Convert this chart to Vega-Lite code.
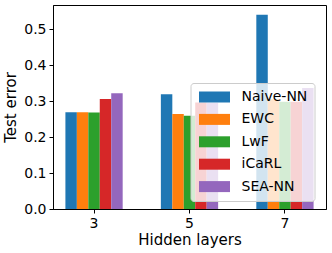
{
  "$schema": "https://vega.github.io/schema/vega-lite/v6.json",
  "width": 273,
  "height": 204,
  "autosize": "none",
  "padding": {"left": 53, "top": 5, "right": 6, "bottom": 44},
  "background": "white",
  "config": {
    "view": {"stroke": "black", "strokeWidth": 1},
    "font": "DejaVu Sans",
    "axis": {
      "domainColor": "black", "tickColor": "black", "labelColor": "black", "titleColor": "black",
      "grid": false, "labelFontSize": 14, "titleFontSize": 15, "titleFontWeight": "normal",
      "tickSize": 4, "domainWidth": 1, "tickWidth": 1, "labelPadding": 3, "labelFont": "DejaVu Sans", "titleFont": "DejaVu Sans"
    }
  },
  "data": {
    "values": [
      {"layers": "3", "method": "Naive-NN", "error": 0.269},
      {"layers": "3", "method": "EWC", "error": 0.269},
      {"layers": "3", "method": "LwF", "error": 0.268},
      {"layers": "3", "method": "iCaRL", "error": 0.306},
      {"layers": "3", "method": "SEA-NN", "error": 0.322},
      {"layers": "5", "method": "Naive-NN", "error": 0.319},
      {"layers": "5", "method": "EWC", "error": 0.264},
      {"layers": "5", "method": "LwF", "error": 0.259},
      {"layers": "5", "method": "iCaRL", "error": 0.296},
      {"layers": "5", "method": "SEA-NN", "error": 0.295},
      {"layers": "7", "method": "Naive-NN", "error": 0.54},
      {"layers": "7", "method": "EWC", "error": 0.305},
      {"layers": "7", "method": "LwF", "error": 0.298},
      {"layers": "7", "method": "iCaRL", "error": 0.298},
      {"layers": "7", "method": "SEA-NN", "error": 0.336}
    ]
  },
  "mark": {"type": "bar"},
  "encoding": {
    "x": {
      "field": "layers", "type": "nominal", "title": "Hidden layers",
      "scale": {"paddingInner": 0.4, "paddingOuter": 0.13},
      "axis": {"labelAngle": 0, "titlePadding": 2}
    },
    "xOffset": {
      "field": "method", "type": "nominal",
      "sort": ["Naive-NN", "EWC", "LwF", "iCaRL", "SEA-NN"],
      "scale": {"paddingInner": 0, "paddingOuter": 0}
    },
    "y": {
      "field": "error", "type": "quantitative", "title": "Test error",
      "scale": {"domain": [0, 0.567], "nice": false, "zero": true},
      "axis": {"values": [0, 0.1, 0.2, 0.3, 0.4, 0.5], "format": ".1f", "titlePadding": 5}
    },
    "color": {
      "field": "method", "type": "nominal",
      "scale": {
        "domain": ["Naive-NN", "EWC", "LwF", "iCaRL", "SEA-NN"],
        "range": ["#1f77b4", "#ff7f0e", "#2ca02c", "#d62728", "#9467bd"]
      },
      "legend": {
        "title": null, "orient": "none", "legendX": 137.5, "legendY": 78,
        "symbolType": "M-1,-1H4.64V1H-1Z", "symbolSize": 121, "symbolStrokeWidth": 0,
        "symbolOpacity": 1,
        "labelFontSize": 14, "labelFont": "DejaVu Sans", "labelColor": "black", "labelOffset": 30,
        "rowPadding": 8.4, "padding": 7,
        "fillColor": "rgba(255,255,255,0.8)", "strokeColor": "#cccccc", "cornerRadius": 3
      }
    }
  }
}
